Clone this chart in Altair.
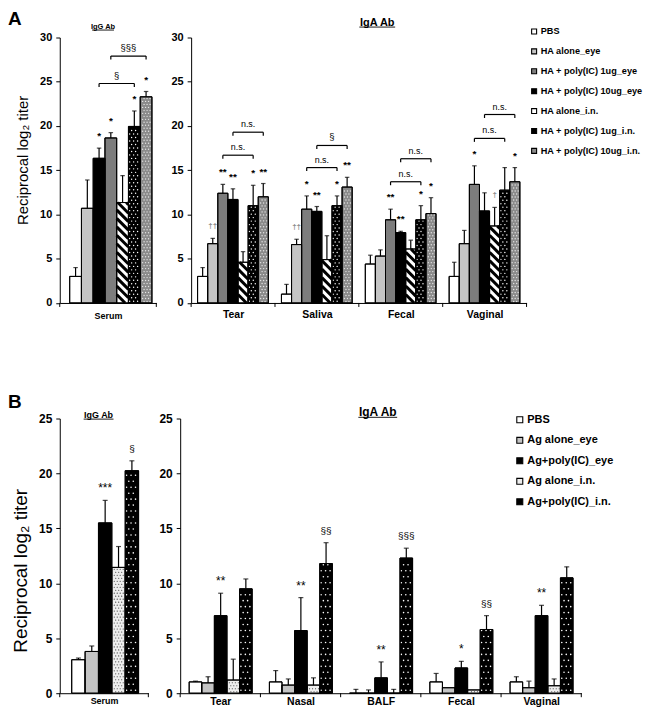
import altair as alt
import pandas as pd

FONT = "Liberation Sans"

# ---------------- Panel A ----------------
A_SERIES = ["PBS", "HA alone_eye", "HA + poly(IC) 1ug_eye", "HA + poly(IC) 10ug_eye",
            "HA alone_i.n.", "HA + poly(IC) 1ug_i.n.", "HA + poly(IC) 10ug_i.n."]
A_FILLS = ["#ffffff", "#c4c4c4", "#7d7d7d", "#000000", "#ffffff", "#000000", "#8a8a8a"]
A_GROUPS = ["Tear", "Saliva", "Fecal", "Vaginal"]

A_SERUM_MEAN = [3.0, 10.7, 18.65, 16.35, 11.35, 19.95, 23.3]
A_SERUM_TOP = [4.0, 13.9, 19.25, 17.5, 14.4, 21.7, 23.9]
A_SERUM_POS = [0, 1, 3, 2, 4, 5, 6]
A_SERUM_SIG = ["", "", "*", "*", "", "*", "*"]

A_TEAR_MEAN = [3.0, 6.7, 12.4, 11.7, 4.6, 11.0, 12.0]
A_TEAR_TOP = [4.0, 7.3, 13.4, 12.9, 5.8, 13.3, 13.5]
A_TEAR_SIG = ["", "††", "**", "**", "", "*", "**"]
A_SALIVA_MEAN = [1.0, 6.6, 10.6, 10.35, 4.9, 11.0, 13.1]
A_SALIVA_TOP = [2.1, 7.2, 12.1, 10.9, 7.6, 12.1, 14.2]
A_SALIVA_SIG = ["", "††", "*", "**", "", "*", "**"]
A_FECAL_MEAN = [4.4, 5.3, 9.4, 7.95, 6.1, 9.4, 10.1]
A_FECAL_TOP = [5.4, 6.0, 10.6, 8.1, 7.1, 11.0, 11.9]
A_FECAL_SIG = ["", "", "**", "**", "", "*", "*"]
A_VAGINAL_MEAN = [3.0, 6.7, 13.4, 10.4, 8.7, 12.75, 13.7]
A_VAGINAL_TOP = [4.6, 8.2, 15.5, 12.45, 10.8, 15.3, 15.3]
A_VAGINAL_SIG = ["", "", "*", "", "†", "", "*"]

A_SERUM_BR_FROM = [2, 3]
A_SERUM_BR_TO = [5, 6]
A_SERUM_BR_LEVEL = [24.8, 27.9]
A_SERUM_BR_LABEL = ["§", "§§§"]

A_BR_GROUP = [0, 0, 1, 1, 2, 2, 3, 3]
A_BR_FROM = [2, 3, 2, 3, 2, 3, 2, 3]
A_BR_TO = [5, 6, 5, 6, 5, 6, 5, 6]
A_BR_LEVEL = [16.7, 19.3, 15.3, 17.8, 13.7, 16.3, 18.6, 21.3]
A_BR_LABEL = ["n.s.", "n.s.", "n.s.", "§", "n.s.", "n.s.", "n.s.", "n.s."]

# ---------------- Panel B ----------------
B_SERIES = ["PBS", "Ag alone_eye", "Ag+poly(IC)_eye", "Ag alone_i.n.", "Ag+poly(IC)_i.n."]
B_FILLS = ["#ffffff", "#c4c4c4", "#000000", "#eeeeee", "#000000"]
B_GROUPS = ["Tear", "Nasal", "BALF", "Fecal", "Vaginal"]

B_SERUM_MEAN = [3.05, 3.8, 15.5, 11.45, 20.25]
B_SERUM_TOP = [3.2, 4.3, 17.55, 13.35, 21.15]
B_SERUM_SIG = ["", "", "***", "", "§"]

B_TEAR_MEAN = [1.03, 0.94, 7.06, 1.2, 9.5]
B_TEAR_TOP = [1.1, 1.5, 9.1, 3.1, 10.4]
B_TEAR_SIG = ["", "", "**", "", ""]
B_NASAL_MEAN = [1.03, 0.74, 5.7, 0.74, 11.8]
B_NASAL_TOP = [2.06, 1.3, 8.7, 1.4, 13.7]
B_NASAL_SIG = ["", "", "**", "", "§§"]
B_BALF_MEAN = [0.0, 0.0, 1.4, 0.0, 12.3]
B_BALF_TOP = [0.35, 0.3, 2.85, 0.35, 13.2]
B_BALF_SIG = ["", "", "**", "", "§§§"]
B_FECAL_MEAN = [1.03, 0.5, 2.3, 0.3, 5.8]
B_FECAL_TOP = [1.8, 0.5, 2.9, 0.3, 7.06]
B_FECAL_SIG = ["", "", "*", "", "§§"]
B_VAGINAL_MEAN = [1.03, 0.5, 7.06, 0.68, 10.5]
B_VAGINAL_TOP = [1.5, 1.1, 8.0, 1.3, 11.5]
B_VAGINAL_SIG = ["", "", "**", "", ""]


def rows(means, tops, sigs, series, pos=None):
    out = []
    for g, (m, t, s) in enumerate(zip(means, tops, sigs)):
        for i, name in enumerate(series):
            out.append({"g": g, "sid": i, "pos": pos[i] if pos else i, "series": name,
                        "mean": m[i], "hi": t[i], "sig": s[i]})
    return pd.DataFrame(out)


def brackets(groups, frm, to, level, label):
    return pd.DataFrame({"g": groups, "j1": frm, "j2": to, "level": level, "label": label})


def make_panel(df, br, groups, series, fills, ymax, width, height, pad, bw, st,
               patterns, legend=None, decor=()):
    n = len(groups)
    pxx = width / n
    pxy = height / ymax
    W = bw * pxx
    xs = alt.Scale(domain=[0, n], nice=False, zero=False)
    ys = alt.Scale(domain=[0, ymax], nice=False)
    arr = "[" + ",".join("'%s'" % g for g in groups) + "]"
    xaxis = alt.Axis(values=[i + 0.5 for i in range(n)], labelExpr=arr + "[floor(datum.value)]",
                     ticks=False, title=None, grid=False, domainColor="black", domainWidth=1,
                     labelFont=FONT, labelFontSize=st["xsize"], labelFontWeight="bold",
                     labelColor="black", labelPadding=st["xpad"], labelAngle=0)
    yaxis = alt.Axis(values=list(range(0, ymax + 1, 5)), title=None, grid=False,
                     domainColor="black", domainWidth=1, tickColor="black", tickSize=4,
                     tickWidth=1, labelFont=FONT, labelFontSize=st["ysize"],
                     labelFontWeight="bold", labelColor="black", labelPadding=st["ypad"])

    def X(f):
        return alt.X(f, scale=xs, axis=xaxis)

    def Y(f):
        return alt.Y(f, scale=ys, axis=yaxis)

    base = alt.Chart(df).transform_calculate(
        x0=f"datum.g + {pad} + datum.pos * {bw}"
    ).transform_calculate(
        x1=f"datum.x0 + {bw}", xc=f"datum.x0 + {bw / 2}", top="max(datum.mean, datum.hi)"
    )
    fill_kw = {"scale": alt.Scale(domain=series, range=fills), "legend": legend}
    layers = [base.mark_rect(stroke="black", strokeWidth=1).encode(
        x=X("x0:Q"), x2="x1:Q", y=Y("mean:Q"), y2=alt.datum(0),
        fill=alt.Fill("series:N", **fill_kw))]

    for p in patterns:
        if p["kind"] == "hatch":
            P = p["period"]
            h = base.transform_filter(f"datum.sid == {p['sid']}").transform_calculate(
                k="sequence(0, 80)").transform_flatten(["k"]).transform_calculate(
                T=f"datum.mean * {pxy}", hL=f"datum.k * {P}"
            ).transform_calculate(
                sx="max(0, datum.hL - datum.T)", ex=f"min({W}, datum.hL)"
            ).transform_filter("datum.ex - datum.sx > 0.8").transform_calculate(
                X1=f"datum.x0 + datum.sx / {pxx}", X2=f"datum.x0 + datum.ex / {pxx}",
                Y1=f"(datum.hL - datum.sx) / {pxy}", Y2=f"(datum.hL - datum.ex) / {pxy}"
            ).mark_rule(color="black", strokeWidth=p["sw"]).encode(
                x=X("X1:Q"), x2="X2:Q", y=Y("Y1:Q"), y2="Y2:Q")
            layers.append(h)
        else:
            cs, rs = p["col"], p["row"]
            ncol = int(W / cs) + 2
            d = base.transform_filter(f"datum.sid == {p['sid']}").transform_calculate(
                r="sequence(0, 120)").transform_flatten(["r"]).transform_calculate(
                c=f"sequence(0, {ncol})").transform_flatten(["c"]).transform_calculate(
                px=f"(datum.c + 0.3 + (datum.r % 2) * 0.5) * {cs}",
                py=f"(datum.r + 0.5) * {rs}"
            ).transform_filter(
                f"datum.px > 1 && datum.px < {W} - 1 && datum.py < datum.mean * {pxy} - 1"
            ).transform_calculate(
                DX=f"datum.x0 + datum.px / {pxx}", DY=f"datum.py / {pxy}"
            ).mark_circle(size=p["size"], color=p["color"], opacity=1).encode(
                x=X("DX:Q"), y=Y("DY:Q"))
            layers.append(d)

    # outlines on top of patterns
    layers.append(base.mark_rect(fillOpacity=0, stroke="black", strokeWidth=1).encode(
        x=X("x0:Q"), x2="x1:Q", y=Y("mean:Q"), y2=alt.datum(0)))
    eb = base.transform_filter("datum.hi > datum.mean + 0.02")
    layers.append(eb.mark_rule(color="black", strokeWidth=1.2).encode(
        x=X("xc:Q"), y=Y("mean:Q"), y2="hi:Q"))
    layers.append(eb.mark_tick(orient="horizontal", color="black", size=st["cap"],
                               thickness=1.2).encode(x=X("xc:Q"), y=Y("hi:Q")))
    layers.append(base.transform_filter("datum.sig != ''").mark_text(
        baseline="middle", dy=st["sigdy"], font=FONT, fontWeight=st["sigweight"]).encode(
        x=X("xc:Q"), y=Y("top:Q"), text="sig:N",
        color=alt.condition("indexof(datum.sig, '†') >= 0", alt.value("#8c8c8c"),
                            alt.value("black")),
        size=alt.condition("indexof(datum.sig, '*') >= 0", alt.value(st["starsize"]),
                           alt.value(st["othersize"]))))

    if br is not None:
        bb = alt.Chart(br).transform_calculate(
            xa=f"datum.g + {pad} + (datum.j1 + 0.5) * {bw}",
            xb=f"datum.g + {pad} + (datum.j2 + 0.5) * {bw}",
            yd=f"datum.level - {3.5 / pxy}"
        ).transform_calculate(xm="(datum.xa + datum.xb) / 2")
        layers.append(bb.mark_rule(color="black", strokeWidth=1.2).encode(
            x=X("xa:Q"), x2="xb:Q", y=Y("level:Q")))
        layers.append(bb.mark_rule(color="black", strokeWidth=1.2).encode(
            x=X("xa:Q"), y=Y("level:Q"), y2="yd:Q"))
        layers.append(bb.mark_rule(color="black", strokeWidth=1.2).encode(
            x=X("xb:Q"), y=Y("level:Q"), y2="yd:Q"))
        layers.append(bb.mark_text(baseline="bottom", dy=-3, font=FONT, color="black").encode(
            x=X("xm:Q"), y=Y("level:Q"), text="label:N",
            size=alt.condition("datum.label == 'n.s.'", alt.value(9), alt.value(9.5))))

    tk = pd.DataFrame({"b": list(range(n + 1))})
    layers.append(alt.Chart(tk).mark_rule(color="black", strokeWidth=1).encode(
        x=X("b:Q"), y=alt.value(height), y2=alt.value(height + 4)))

    for dd in decor:
        if dd["kind"] == "text":
            kw = dict(font=FONT, fontSize=dd["size"], fontWeight=dd.get("weight", "normal"),
                      align=dd.get("align", "center"), baseline=dd.get("baseline", "alphabetic"),
                      color="black")
            if "angle" in dd:
                kw["angle"] = dd["angle"]
            layers.append(alt.Chart(pd.DataFrame({"t": [dd["text"]]})).mark_text(**kw).encode(
                text="t:N", x=alt.value(dd["x"]), y=alt.value(dd["y"])))
        else:
            layers.append(alt.Chart(pd.DataFrame({"t": [0]})).mark_rule(
                color="black", strokeWidth=0.9).encode(
                x=alt.value(dd["x1"]), x2=alt.value(dd["x2"]), y=alt.value(dd["y"])))

    return alt.layer(*layers).properties(width=width, height=height)


A_H = 266.7
B_H = 276.0

stA_serum = dict(xsize=9, xpad=8.5, ysize=11, ypad=4, cap=4.5, sigdy=-12, sigweight="bold",
                 starsize=10, othersize=8)
stA_iga = dict(xsize=10.5, xpad=7, ysize=11, ypad=4, cap=4.5, sigdy=-12, sigweight="bold",
               starsize=10, othersize=8)
stB_serum = dict(xsize=9, xpad=3, ysize=12, ypad=4, cap=5, sigdy=-12, sigweight="normal",
                 starsize=12, othersize=10)
stB_iga = dict(xsize=10.5, xpad=3, ysize=12, ypad=4, cap=5, sigdy=-12, sigweight="normal",
               starsize=12, othersize=10)

patA = [dict(kind="hatch", sid=4, period=8.5, sw=3.0),
        dict(kind="dots", sid=5, col=4, row=3.5, color="white", size=2),
        dict(kind="dots", sid=6, col=3, row=3, color="#e4e4e4", size=2)]
patB = [dict(kind="dots", sid=3, col=3, row=3, color="#333333", size=1.3),
        dict(kind="dots", sid=4, col=4.5, row=6, color="white", size=2.5)]

a_serum_df = rows([A_SERUM_MEAN], [A_SERUM_TOP], [A_SERUM_SIG], A_SERIES, A_SERUM_POS)
a_serum_br = brackets([0, 0], A_SERUM_BR_FROM, A_SERUM_BR_TO, A_SERUM_BR_LEVEL, A_SERUM_BR_LABEL)
a_iga_df = rows([A_TEAR_MEAN, A_SALIVA_MEAN, A_FECAL_MEAN, A_VAGINAL_MEAN],
                [A_TEAR_TOP, A_SALIVA_TOP, A_FECAL_TOP, A_VAGINAL_TOP],
                [A_TEAR_SIG, A_SALIVA_SIG, A_FECAL_SIG, A_VAGINAL_SIG], A_SERIES)
a_iga_br = brackets(A_BR_GROUP, A_BR_FROM, A_BR_TO, A_BR_LEVEL, A_BR_LABEL)

b_serum_df = rows([B_SERUM_MEAN], [B_SERUM_TOP], [B_SERUM_SIG], B_SERIES)
b_iga_df = rows([B_TEAR_MEAN, B_NASAL_MEAN, B_BALF_MEAN, B_FECAL_MEAN, B_VAGINAL_MEAN],
                [B_TEAR_TOP, B_NASAL_TOP, B_BALF_TOP, B_FECAL_TOP, B_VAGINAL_TOP],
                [B_TEAR_SIG, B_NASAL_SIG, B_BALF_SIG, B_FECAL_SIG, B_VAGINAL_SIG], B_SERIES)

legA = alt.Legend(orient="none", legendX=340, legendY=-10.7, title=None, symbolType="square",
                  symbolSize=25, symbolStrokeColor="black", symbolStrokeWidth=1.1,
                  labelFont=FONT, labelFontSize=9.2, labelFontWeight="bold", labelColor="black",
                  rowPadding=9.0, labelOffset=2, padding=0, labelLimit=300)
legB = alt.Legend(orient="none", legendX=335.7, legendY=-4.2, title=None, symbolType="square",
                  symbolSize=36, symbolStrokeColor="black", symbolStrokeWidth=1.1,
                  labelFont=FONT, labelFontSize=11, labelFontWeight="bold", labelColor="black",
                  rowPadding=8.6, labelOffset=2, padding=0, labelLimit=300)

a_serum = make_panel(
    a_serum_df, a_serum_br, ["Serum"], A_SERIES, A_FILLS, 30, 97, A_H, 0.103, 0.1217,
    stA_serum, patA, None,
    decor=[dict(kind="text", text="A", x=-52, y=-12.5, size=19, weight="bold", align="left"),
           dict(kind="text", text="IgG Ab", x=43.5, y=-9, size=7.5, weight="bold"),
           dict(kind="line", x1=32.5, x2=54.5, y=-7.5),
           dict(kind="text", text="Reciprocal log₂ titer", x=-36.5, y=123.5, size=15,
                angle=270, baseline="middle")])
a_iga = make_panel(
    a_iga_df, a_iga_br, A_GROUPS, A_SERIES, A_FILLS, 30, 337, A_H, 0.077, 0.1205,
    stA_iga, patA, legA,
    decor=[dict(kind="text", text="IgA Ab", x=187, y=-12, size=11, weight="bold"),
           dict(kind="line", x1=169, x2=205, y=-10.5)])

b_serum = make_panel(
    b_serum_df, None, ["Serum"], B_SERIES, B_FILLS, 25, 89, B_H, 0.135, 0.151,
    stB_serum, patB, None,
    decor=[dict(kind="text", text="B", x=-52, y=-10.1, size=19, weight="bold", align="left"),
           dict(kind="text", text="IgG Ab", x=39, y=-0.7, size=9, weight="bold"),
           dict(kind="line", x1=24, x2=54, y=0.6),
           dict(kind="text", text="Reciprocal log₂ titer", x=-39, y=153, size=19,
                angle=270, baseline="middle")])
b_iga = make_panel(
    b_iga_df, None, B_GROUPS, B_SERIES, B_FILLS, 25, 403, B_H, 0.112, 0.157,
    stB_iga, patB, legB,
    decor=[dict(kind="text", text="IgA Ab", x=198.5, y=-2.7, size=12, weight="bold"),
           dict(kind="line", x1=179, x2=218, y=-1.2)])

rowA = alt.hconcat(a_serum, a_iga, spacing=35, bounds="flush").resolve_scale(
    fill="independent").resolve_legend(fill="independent")
rowB = alt.hconcat(b_serum, b_iga, spacing=32, bounds="flush").resolve_scale(
    fill="independent").resolve_legend(fill="independent")

chart = alt.vconcat(rowA, rowB, spacing=71.8).resolve_scale(
    fill="independent").resolve_legend(fill="independent").properties(
    padding=0).configure_view(strokeWidth=0)

chart.save("out.html", embed_options={"renderer": "svg", "actions": False})
